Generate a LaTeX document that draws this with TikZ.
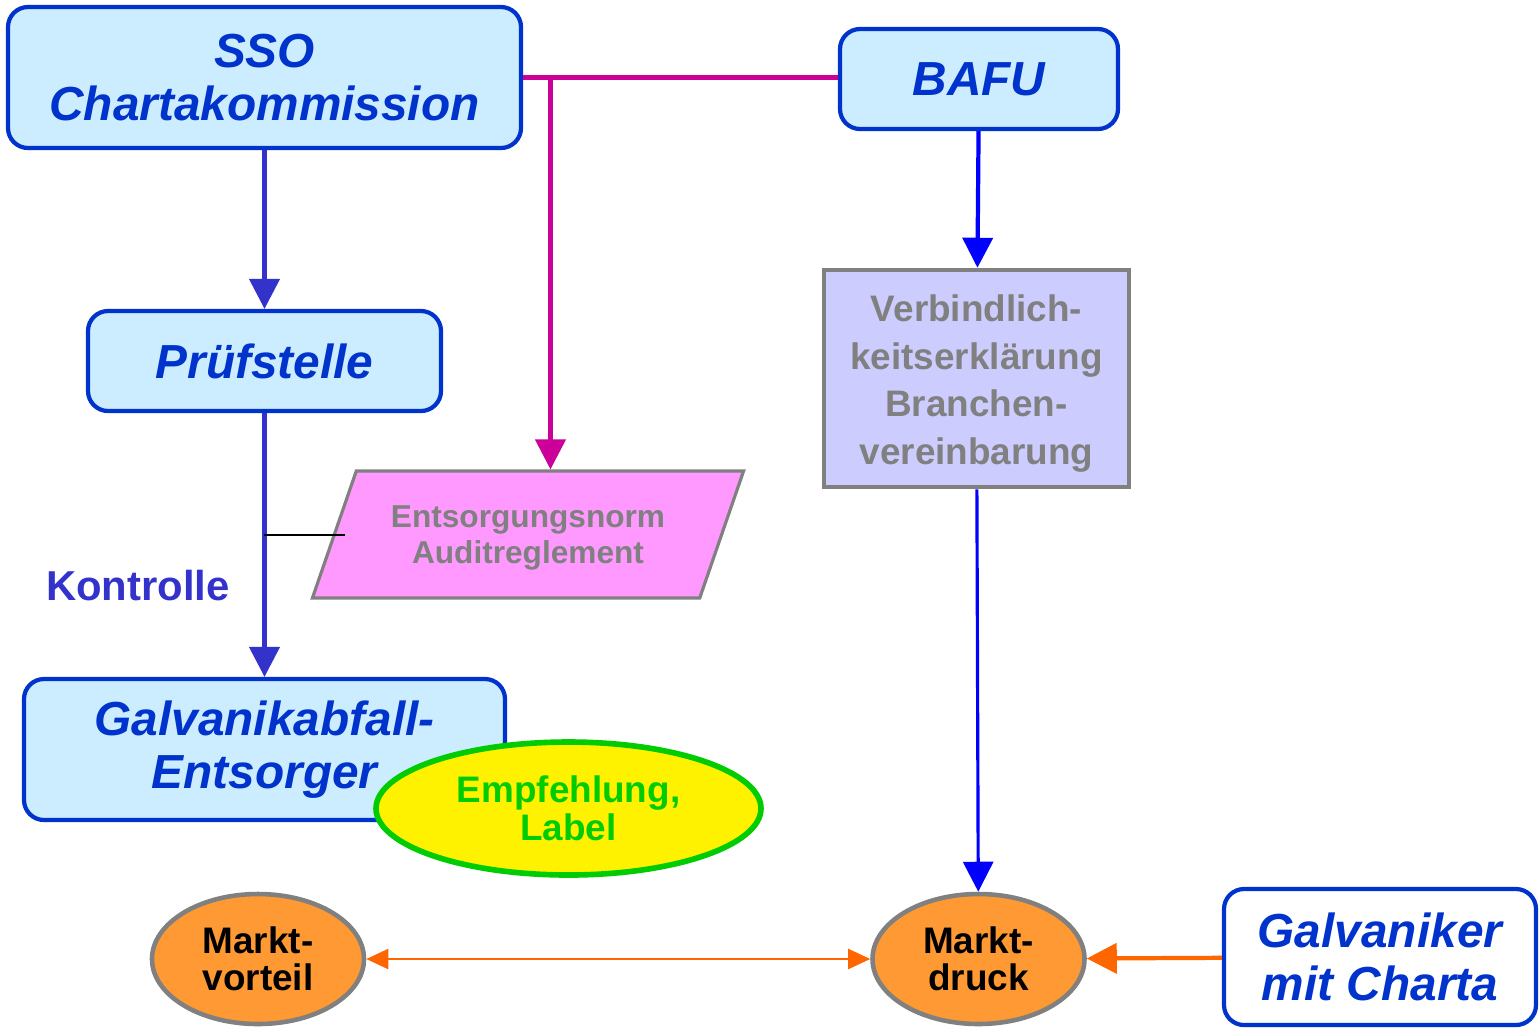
\documentclass[tikz,border=0pt]{standalone}
\usepackage{fontspec}
\setmainfont{Liberation Sans}
\usetikzlibrary{arrows.meta}
\usetikzlibrary{shapes.geometric}

\definecolor{boxblue}{HTML}{CCECFF}
\definecolor{textblue}{HTML}{0033CC}
\definecolor{violetline}{HTML}{3333CC}
\definecolor{magline}{HTML}{CC0099}
\definecolor{pinkfill}{HTML}{FF99FF}
\definecolor{lilafill}{HTML}{CCCCFF}
\definecolor{greytext}{HTML}{808080}
\definecolor{orangefill}{HTML}{FF9933}
\definecolor{orangeline}{HTML}{FF6600}
\definecolor{greenline}{HTML}{00CC00}

\begin{document}
\begin{tikzpicture}[
    orgbox/.style={draw=textblue, fill=boxblue, line width=1.2pt, rounded corners=0.2cm,
      text=textblue, font=\fontsize{13.6}{15.1}\bfseries\itshape, align=center, inner sep=0pt},
    markt/.style={ellipse, draw=greytext, fill=orangefill, line width=1.3pt, inner sep=0pt,
      align=center, font=\fontsize{10.5}{10.5}\bfseries, minimum width=2.12cm, minimum height=1.3cm},
    bigarrow/.style={line width=1.2pt, -{Triangle[length=3mm,width=3mm]}},
    smallarrow/.style={line width=0.6pt, {Triangle[length=2.2mm,width=2mm]}-{Triangle[length=2.2mm,width=2mm]}}
  ]
  \useasboundingbox (0,0) rectangle (15.39,-10.27);

  % boxes
  \node[orgbox, minimum width=5.13cm, minimum height=1.41cm] (sso) at (2.645,-0.775) {SSO\\Chartakommission};
  \node[orgbox, minimum width=2.78cm, minimum height=1.0cm] (bafu) at (9.79,-0.79) {BAFU};
  \node[orgbox, minimum width=3.53cm, minimum height=1.0cm] (pruef) at (2.645,-3.61) {Prüfstelle};
  \node[orgbox, minimum width=4.81cm, minimum height=1.41cm] (entsorger) at (2.645,-7.495) {Galvanikabfall-\\Entsorger};
  \node[orgbox, fill=white, minimum width=3.12cm, minimum height=1.36cm] (galv) at (13.80,-9.57) {Galvaniker\\mit Charta};

  \node[draw=greytext, fill=lilafill, line width=1.3pt, minimum width=3.05cm, minimum height=2.17cm,
    text=greytext, font=\fontsize{10.5}{13.6}\bfseries, align=center, inner sep=0pt]
    (verb) at (9.765,-3.785) {\raisebox{-0.05cm}[\height][\depth]{\begin{tabular}{@{}c@{}}Verbindlich-\\keitserklärung\\Branchen-\\vereinbarung\end{tabular}}};

  \node[trapezium, trapezium left angle=64.2, trapezium right angle=115.8, trapezium stretches=true,
    draw=greytext, fill=pinkfill, line width=0.9pt, minimum width=4.32cm, minimum height=1.27cm,
    text=greytext, font=\fontsize{9}{10.3}\bfseries, align=center, inner sep=0pt]
    (norm) at (5.28,-5.345) {\raisebox{-0.04cm}[\height][\depth]{\begin{tabular}{@{}c@{}}Entsorgungsnorm\\Auditreglement\end{tabular}}};

  \node[ellipse, draw=greenline, fill=yellow, line width=1.6pt, minimum width=3.85cm, minimum height=1.33cm,
    text=greenline, font=\fontsize{10.5}{10.8}\bfseries, align=center, inner sep=0pt]
    (emp) at (5.685,-8.085) {Empfehlung,\\Label};

  \node[markt] (vorteil) at (2.58,-9.59) {Markt-\\vorteil};
  \node[markt] (druck) at (9.785,-9.59) {Markt-\\druck};

  \node[text=violetline, font=\fontsize{11.9}{12}\bfseries] (kontrolle) at (1.38,-5.86) {Kontrolle};

  % connectors
  \draw[bigarrow, violetline] (sso) -- (pruef);
  \draw[bigarrow, violetline] (pruef) -- (entsorger.north);
  \coordinate (kA) at (2.64,-5.35);
  \coordinate (kB) at (3.45,-5.35);
  \draw[line width=0.5pt] (kA) -- (kB);

  \draw[magline, line width=1.3pt] (sso.east) -- (sso.east -| bafu.west);
  \draw[bigarrow, magline] (norm.top side |- sso.east) -- (norm.top side);

  \draw[bigarrow, blue] (bafu) -- (verb);
  \draw[bigarrow, blue, line width=0.9pt] (verb) -- (druck);

  \draw[smallarrow, orangeline] (vorteil) -- (druck);
  \draw[bigarrow, orangeline] (galv) -- (druck);
\end{tikzpicture}
\end{document}
